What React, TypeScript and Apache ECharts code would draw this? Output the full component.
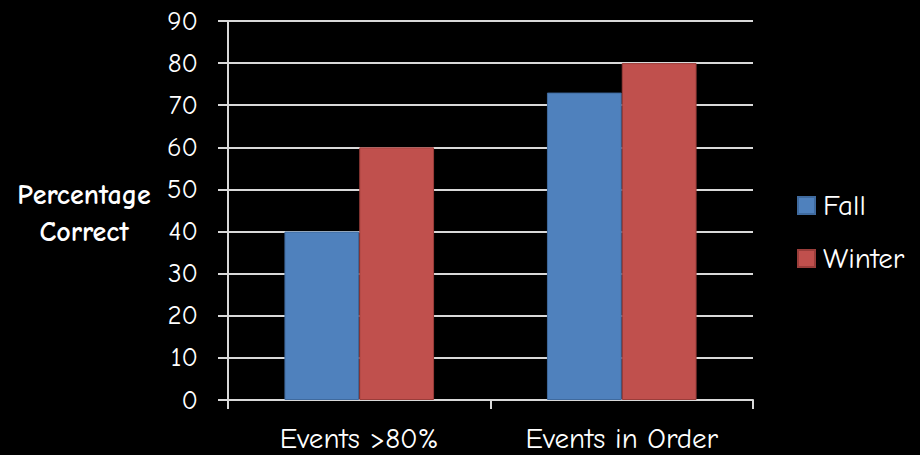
import React, { useEffect, useRef } from "react";
import * as echarts from "echarts";

const categories = ["Events >80%", "Events in Order"];
const fallValues = [40, 73];
const winterValues = [60, 80];
const seriesNames = ["Fall", "Winter"];
const yAxisTitle = "Percentage\nCorrect";

const FONT = "'Comic Neue', 'Comic Sans MS', 'DejaVu Sans', sans-serif";

export default function App() {
  const ref = useRef<HTMLDivElement>(null);
  useEffect(() => {
    document.body.style.margin = "0";
    document.body.style.background = "#000000";
    const chart = echarts.init(ref.current!, null, { renderer: "svg" });
    const lineColor = "#d9d9d9";
    chart.setOption({
      animation: false,
      backgroundColor: "#000000",
      grid: { left: 228, right: 167, top: 21, bottom: 55, containLabel: false },
      legend: {
        orient: "vertical",
        left: 797,
        top: 191,
        padding: 0,
        itemWidth: 17,
        itemHeight: 17,
        itemGap: 24,
        icon: "rect",
        textStyle: {
          color: "#ffffff",
          fontSize: 29,
          lineHeight: 20,
          fontFamily: FONT,
          padding: [0, 0, 0, 3],
        },
        data: seriesNames,
      },
      xAxis: {
        type: "category",
        data: categories,
        axisLine: { show: true, lineStyle: { color: lineColor, width: 2 } },
        axisTick: { show: true, length: 9, lineStyle: { color: lineColor, width: 2 } },
        axisLabel: { color: "#ffffff", fontSize: 29, fontFamily: FONT, margin: 24 },
        splitLine: { show: false },
      },
      yAxis: {
        type: "value",
        min: 0,
        max: 90,
        interval: 10,
        axisLine: { show: true, lineStyle: { color: lineColor, width: 2 } },
        axisTick: { show: true, length: 10, lineStyle: { color: lineColor, width: 2 } },
        axisLabel: { color: "#ffffff", fontSize: 27, fontFamily: FONT, margin: 30 },
        splitLine: { show: true, lineStyle: { color: lineColor, width: 2 } },
      },
      series: [
        {
          name: seriesNames[0],
          type: "bar",
          data: fallValues,
          barGap: "0%",
          barCategoryGap: "43%",
          itemStyle: { color: "#4F81BD", borderColor: "#3f6a9e", borderWidth: 1 },
        },
        {
          name: seriesNames[1],
          type: "bar",
          data: winterValues,
          barGap: "0%",
          barCategoryGap: "43%",
          itemStyle: { color: "#C0504D", borderColor: "#9a3d3a", borderWidth: 1 },
        },
      ],
      graphic: [
        {
          type: "text",
          x: 84,
          y: 176,
          style: {
            text: yAxisTitle,
            fill: "#ffffff",
            fontSize: 28,
            fontWeight: "bold",
            fontFamily: FONT,
            textAlign: "center",
            lineHeight: 37,
          },
        },
      ],
    });
    return () => chart.dispose();
  }, []);
  return <div ref={ref} style={{ width: 920, height: 455 }} />;
}
